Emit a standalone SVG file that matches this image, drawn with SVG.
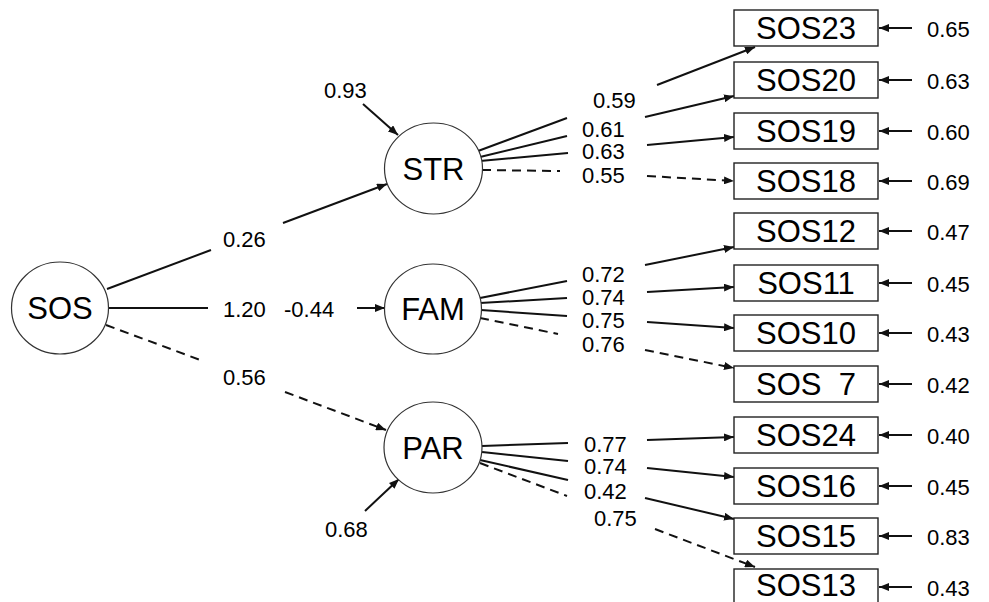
<svg xmlns="http://www.w3.org/2000/svg" width="989" height="602" viewBox="0 0 989 602">
<style>
text{font-family:"Liberation Sans",Arial,sans-serif;fill:#000}
.num{font-size:22px}
.lab{font-size:31px;text-anchor:middle}
.node{fill:#fff;stroke:#333;stroke-width:1.2}
.box{fill:#fff;stroke:#222;stroke-width:1.4}
.ln{stroke:#111;stroke-width:2;fill:none}
.arr{marker-end:url(#ah)}
.dash{stroke-dasharray:9,6}
</style>
<defs>
<marker id="ah" viewBox="0 0 10 8" refX="10" refY="4" markerWidth="10" markerHeight="8" markerUnits="userSpaceOnUse" orient="auto"><path d="M0,0 L10,4 L0,8 z" fill="#111" stroke="none"/></marker>
</defs>
<rect width="989" height="602" fill="#fff"/>
<g id="connectors">
<line class="ln" x1="107" y1="289" x2="211" y2="250"/>
<line class="ln arr" x1="283" y1="223" x2="387" y2="184"/>
<line class="ln" x1="109" y1="308" x2="208" y2="308"/>
<line class="ln arr" x1="357" y1="308" x2="385" y2="308"/>
<line class="ln dash" x1="106" y1="325" x2="203" y2="361"/>
<line class="ln dash arr" x1="285" y1="392" x2="386" y2="430"/>
<line class="ln arr" x1="363" y1="104" x2="398" y2="135"/>
<line class="ln arr" x1="365" y1="511" x2="399" y2="479"/>
<line class="ln" x1="478" y1="151" x2="567" y2="118"/>
<line class="ln arr" x1="657" y1="85" x2="755" y2="47"/>
<line class="ln" x1="480" y1="157" x2="567" y2="136"/>
<line class="ln arr" x1="645" y1="117" x2="734" y2="96"/>
<line class="ln" x1="480" y1="161" x2="568" y2="153"/>
<line class="ln arr" x1="647" y1="145" x2="734" y2="137"/>
<line class="ln dash" x1="482" y1="170" x2="560" y2="171"/>
<line class="ln dash arr" x1="647" y1="176" x2="734" y2="181"/>
<line class="ln" x1="480" y1="298" x2="567" y2="281"/>
<line class="ln arr" x1="645" y1="265" x2="734" y2="247"/>
<line class="ln" x1="480" y1="303" x2="567" y2="298"/>
<line class="ln arr" x1="647" y1="292" x2="734" y2="287"/>
<line class="ln" x1="481" y1="310" x2="567" y2="316"/>
<line class="ln arr" x1="647" y1="322" x2="734" y2="328"/>
<line class="ln dash" x1="480" y1="318" x2="558" y2="334"/>
<line class="ln dash arr" x1="645" y1="350" x2="734" y2="368"/>
<line class="ln" x1="482" y1="446" x2="568" y2="443"/>
<line class="ln arr" x1="647" y1="440" x2="734" y2="437"/>
<line class="ln" x1="482" y1="452" x2="568" y2="461"/>
<line class="ln arr" x1="647" y1="468" x2="734" y2="477"/>
<line class="ln" x1="480" y1="460" x2="568" y2="480"/>
<line class="ln arr" x1="645" y1="498" x2="734" y2="519"/>
<line class="ln dash" x1="480" y1="463" x2="567" y2="496"/>
<line class="ln dash arr" x1="655" y1="529" x2="755" y2="567"/>
<line class="ln arr" x1="912" y1="28" x2="879" y2="28"/>
<line class="ln arr" x1="912" y1="80" x2="879" y2="80"/>
<line class="ln arr" x1="912" y1="131" x2="879" y2="131"/>
<line class="ln arr" x1="912" y1="181" x2="879" y2="181"/>
<line class="ln arr" x1="912" y1="231" x2="879" y2="231"/>
<line class="ln arr" x1="912" y1="283" x2="879" y2="283"/>
<line class="ln arr" x1="912" y1="333" x2="879" y2="333"/>
<line class="ln arr" x1="912" y1="384" x2="879" y2="384"/>
<line class="ln arr" x1="912" y1="435" x2="879" y2="435"/>
<line class="ln arr" x1="912" y1="486" x2="879" y2="486"/>
<line class="ln arr" x1="912" y1="536" x2="879" y2="536"/>
<line class="ln arr" x1="912" y1="587" x2="879" y2="587"/>
<text class="num" x="223" y="247">0.26</text>
<text class="num" x="223" y="317">1.20</text>
<text class="num" x="284" y="317">-0.44</text>
<text class="num" x="223" y="385">0.56</text>
<text class="num" x="324" y="98">0.93</text>
<text class="num" x="325" y="537">0.68</text>
<text class="num" x="593" y="108">0.59</text>
<text class="num" x="582" y="137">0.61</text>
<text class="num" x="582" y="159">0.63</text>
<text class="num" x="582" y="183">0.55</text>
<text class="num" x="582" y="282">0.72</text>
<text class="num" x="582" y="305">0.74</text>
<text class="num" x="582" y="328">0.75</text>
<text class="num" x="582" y="352">0.76</text>
<text class="num" x="584" y="452">0.77</text>
<text class="num" x="584" y="474">0.74</text>
<text class="num" x="584" y="499">0.42</text>
<text class="num" x="594" y="526">0.75</text>
<text class="num" x="927" y="37">0.65</text>
<text class="num" x="927" y="89">0.63</text>
<text class="num" x="927" y="140">0.60</text>
<text class="num" x="927" y="190">0.69</text>
<text class="num" x="927" y="240">0.47</text>
<text class="num" x="927" y="292">0.45</text>
<text class="num" x="927" y="342">0.43</text>
<text class="num" x="927" y="393">0.42</text>
<text class="num" x="927" y="444">0.40</text>
<text class="num" x="927" y="495">0.45</text>
<text class="num" x="927" y="545">0.83</text>
<text class="num" x="927" y="596">0.43</text>
</g>
<g id="SOS"><ellipse class="node" cx="60" cy="308" rx="48.5" ry="46"/><text class="lab" x="60" y="319">SOS</text></g>
<g id="STR"><ellipse class="node" cx="433.5" cy="168.5" rx="49" ry="45.5"/><text class="lab" x="433.5" y="179.5">STR</text></g>
<g id="FAM"><ellipse class="node" cx="433" cy="309" rx="48.5" ry="45"/><text class="lab" x="433" y="320">FAM</text></g>
<g id="PAR"><ellipse class="node" cx="433" cy="447.5" rx="49" ry="45.5"/><text class="lab" x="433" y="459">PAR</text></g>
<g id="SOS23"><rect class="box" x="734" y="10" width="144" height="36"/><text class="lab" x="806" y="39">SOS23</text></g>
<g id="SOS20"><rect class="box" x="734" y="62" width="144" height="36"/><text class="lab" x="806" y="91">SOS20</text></g>
<g id="SOS19"><rect class="box" x="734" y="113" width="144" height="36"/><text class="lab" x="806" y="142">SOS19</text></g>
<g id="SOS18"><rect class="box" x="734" y="163" width="144" height="36"/><text class="lab" x="806" y="192">SOS18</text></g>
<g id="SOS12"><rect class="box" x="734" y="213" width="144" height="36"/><text class="lab" x="806" y="242">SOS12</text></g>
<g id="SOS11"><rect class="box" x="734" y="265" width="144" height="36"/><text class="lab" x="806" y="294">SOS11</text></g>
<g id="SOS10"><rect class="box" x="734" y="315" width="144" height="36"/><text class="lab" x="806" y="344">SOS10</text></g>
<g id="SOS7"><rect class="box" x="734" y="366" width="144" height="36"/><text class="lab" x="806" y="395" xml:space="preserve">SOS  7</text></g>
<g id="SOS24"><rect class="box" x="734" y="417" width="144" height="36"/><text class="lab" x="806" y="446">SOS24</text></g>
<g id="SOS16"><rect class="box" x="734" y="468" width="144" height="36"/><text class="lab" x="806" y="497">SOS16</text></g>
<g id="SOS15"><rect class="box" x="734" y="518" width="144" height="36"/><text class="lab" x="806" y="547">SOS15</text></g>
<g id="SOS13"><rect class="box" x="734" y="569" width="144" height="36"/><text class="lab" x="806" y="596">SOS13</text></g>
</svg>
